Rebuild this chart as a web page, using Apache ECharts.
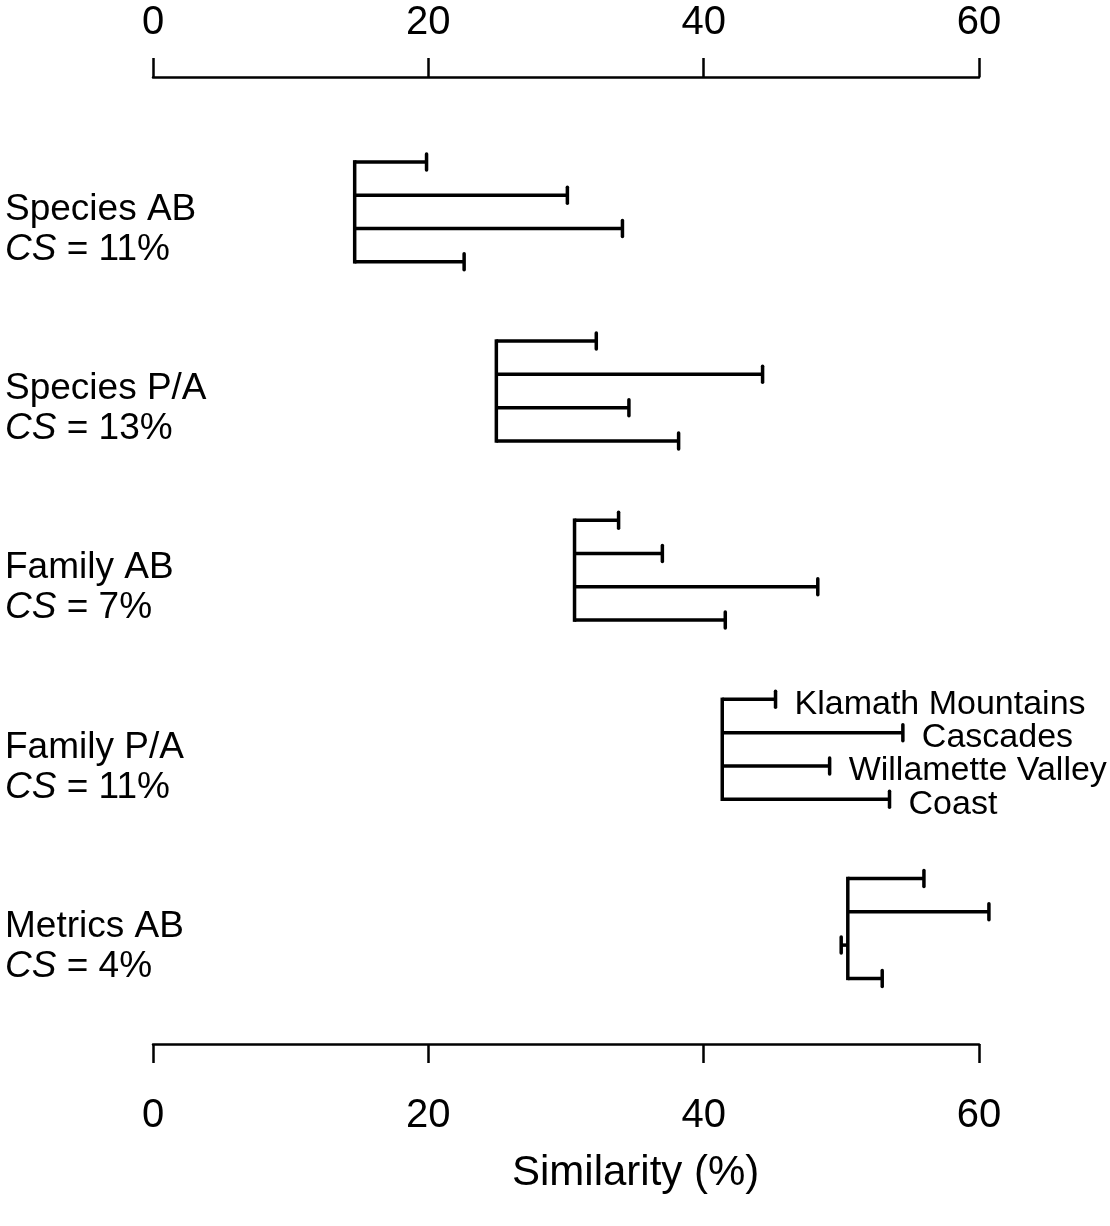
<!DOCTYPE html>
<html><head><meta charset="utf-8">
<script src="https://cdn.jsdelivr.net/npm/echarts@6/dist/echarts.min.js"></script>
<style>html,body{margin:0;padding:0;background:#fff}#c{width:1110px;height:1226px}</style>
</head><body><div id="c"></div>
<script>
// ---- data ----
const groupNames = ['Species AB', 'Species P/A', 'Family AB', 'Family P/A', 'Metrics AB'];
const csValues = ['11%', '13%', '7%', '11%', '4%'];
const baseValues = [14.65, 24.94, 30.62, 41.35, 50.47];
const speciesABEnds = [19.87, 30.1, 34.1, 22.6];
const speciesPAEnds = [32.2, 44.28, 34.57, 38.18];
const familyABEnds = [33.82, 37.0, 48.29, 41.57];
const familyPAEnds = [45.22, 54.47, 49.15, 53.5];
const metricsABEnds = [56.0, 60.72, 49.99, 52.97];
const regionNames = ['Klamath Mountains', 'Cascades', 'Willamette Valley', 'Coast'];
const regionLabelGroup = 3;
const xTicks = [0, 20, 40, 60];
const axisTitle = 'Similarity (%)';

// ---- layout ----
const GROUP_GAP = 5.38;
const FONT = '"Liberation Sans", Arial, Helvetica, sans-serif';
const allEnds = [speciesABEnds, speciesPAEnds, familyABEnds, familyPAEnds, metricsABEnds];

const branchData = [];
allEnds.forEach((ends, g) => ends.forEach((e, r) => branchData.push([g, r, baseValues[g], e])));
const baseData = baseValues.map((b, g) => [g, b]);
const labelData = groupNames.map((n, g) => [g]);
const regionData = regionNames.map((n, r) => [regionLabelGroup, r, familyPAEnds[r]]);

const chart = echarts.init(document.getElementById('c'), null, {renderer: 'canvas'});

const axisCommon = {
  type: 'value', min: xTicks[0], max: xTicks[xTicks.length - 1], interval: 20,
  splitLine: {show: false},
  axisLine: {show: true, onZero: false, lineStyle: {color: '#000', width: 2.5}},
  axisTick: {show: true, inside: false, length: 19, lineStyle: {color: '#000', width: 2.5}},
};

chart.setOption({
  animation: false,
  backgroundColor: '#fff',
  grid: {left: 153, right: 131, top: 77, bottom: 182},
  xAxis: [
    Object.assign({}, axisCommon, {position: 'top',
      axisLabel: {fontSize: 40, color: '#000', fontFamily: FONT, margin: 34}}),
    Object.assign({}, axisCommon, {position: 'bottom',
      axisLabel: {fontSize: 40, color: '#000', fontFamily: FONT, margin: 52}})
  ],
  yAxis: {type: 'value', min: -2.55, max: 26.49, inverse: true, show: false},
  graphic: [{
    type: 'text', left: 635 - 123, top: 1152,
    style: {text: axisTitle, fontSize: 42, fontFamily: FONT, fill: '#000'}
  }],
  series: [
    {
      type: 'custom', xAxisIndex: 0, data: baseData, silent: true,
      renderItem: function (params, api) {
        const g = api.value(0), b = api.value(1);
        const p0 = api.coord([b, g * GROUP_GAP]);
        const p1 = api.coord([b, g * GROUP_GAP + 3]);
        return {type: 'line', shape: {x1: p0[0], y1: p0[1], x2: p1[0], y2: p1[1]},
          style: {stroke: '#000', lineWidth: 3.5, lineCap: 'square'}};
      }
    },
    {
      type: 'custom', xAxisIndex: 0, data: branchData, silent: true,
      renderItem: function (params, api) {
        const g = api.value(0), r = api.value(1), b = api.value(2), e = api.value(3);
        const y = g * GROUP_GAP + r;
        const p0 = api.coord([b, y]);
        const p1 = api.coord([e, y]);
        return {type: 'group', children: [
          {type: 'line', shape: {x1: p0[0], y1: p0[1], x2: p1[0], y2: p1[1]},
            style: {stroke: '#000', lineWidth: 3.5}},
          {type: 'line', shape: {x1: p1[0], y1: p1[1] - 8, x2: p1[0], y2: p1[1] + 8},
            style: {stroke: '#000', lineWidth: 3.5, lineCap: 'round'}}
        ]};
      }
    },
    {
      type: 'custom', xAxisIndex: 0, data: labelData, silent: true,
      renderItem: function (params, api) {
        const g = api.value(0);
        const c = api.coord([0, g * GROUP_GAP + 1.5]);
        return {type: 'group', children: [
          {type: 'text', x: 5, y: c[1] - 2, style: {text: groupNames[g], fontSize: 37, fontFamily: FONT,
            fill: '#000', align: 'left', verticalAlign: 'middle'}},
          {type: 'text', x: 5, y: c[1] + 38, style: {text: '{i|CS}{n| = ' + csValues[g] + '}',
            fill: '#000', align: 'left', verticalAlign: 'middle', fontSize: 37, fontFamily: FONT,
            rich: {i: {fontStyle: 'italic', fontSize: 37, fontFamily: FONT, fill: '#000'},
                   n: {fontSize: 37, fontFamily: FONT, fill: '#000'}}}}
        ]};
      }
    },
    {
      type: 'custom', xAxisIndex: 0, data: regionData, silent: true,
      renderItem: function (params, api) {
        const g = api.value(0), r = api.value(1), e = api.value(2);
        const p = api.coord([e, g * GROUP_GAP + r]);
        return {type: 'text', x: p[0] + 19, y: p[1] + 5,
          style: {text: regionNames[r], fontSize: 34, fontFamily: FONT, fill: '#000',
            align: 'left', verticalAlign: 'middle'}};
      }
    }
  ]
});
</script>
</body></html>
